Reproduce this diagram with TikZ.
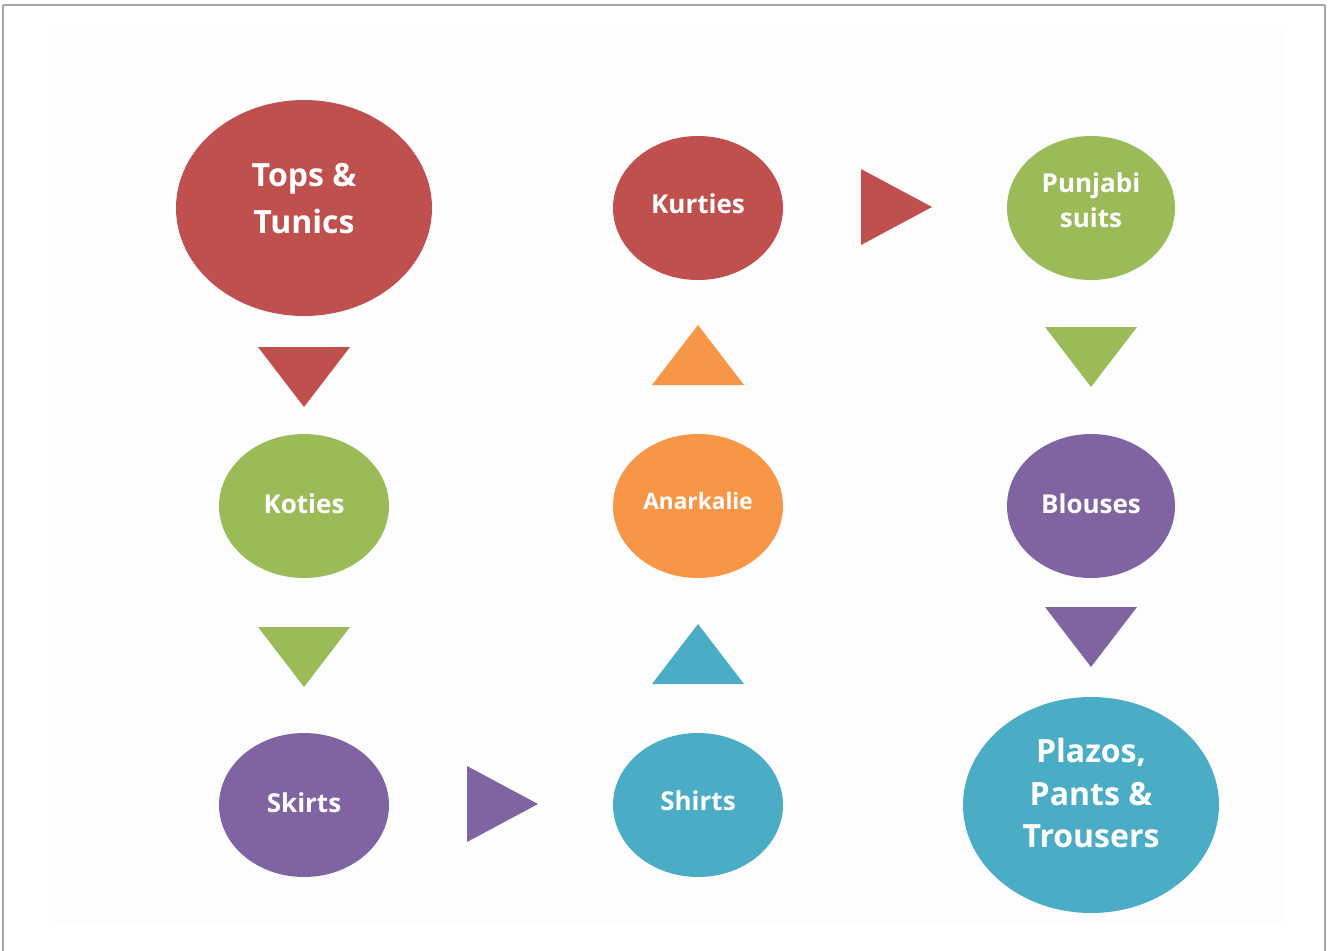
\documentclass[tikz,border=0pt]{standalone}
\usepackage{fontspec}
\setmainfont{Open Sans}
\usetikzlibrary{shapes.geometric}
\definecolor{cred}{HTML}{C0504D}
\definecolor{cgreen}{HTML}{9BBB59}
\definecolor{corange}{HTML}{F79646}
\definecolor{cpurple}{HTML}{8064A2}
\definecolor{ccyan}{HTML}{4BACC6}
\tikzset{
  bub/.style={ellipse, fill=#1, inner sep=0pt, minimum width=127.5pt, minimum height=108pt},
  bigbub/.style={bub=#1, minimum width=192pt, minimum height=162pt},
  lbl/.style={text=white, font=\bfseries\fontsize{19.5}{26}\selectfont, align=center, inner sep=0pt},
  biglbl/.style={lbl, font=\bfseries\fontsize{24}{35}\selectfont},
}
\begin{document}
\begin{tikzpicture}[x=0.75pt,y=-0.75pt]
\useasboundingbox (0,0) rectangle (1332,950);
\fill[white] (0,0) rectangle (1332,950);
\fill[black!0.6] (50,30) rectangle (1285,925);
\draw[black!35, line width=1.2pt] (3,5) -- (1325,5) (3,5) -- (3,960) (1325,5) -- (1325,960);
% bubbles
\node[bigbub=cred] (tops) at (304,208) {};
\node[bub=cred] (kurt) at (698,208) {};
\node[bub=cgreen, minimum width=126pt] (punj) at (1091,208) {};
\node[bub=cgreen] (koti) at (304,506) {};
\node[bub=corange] (anar) at (698,506) {};
\node[bub=cpurple, minimum width=126pt] (blou) at (1091,506) {};
\node[bub=cpurple] (skir) at (304,805) {};
\node[bub=ccyan] (shir) at (698,805) {};
\node[bigbub=ccyan] (plaz) at (1091,805) {};
% labels
\node[biglbl] (topsT) at ([yshift=7]tops.center) {Tops \&\\Tunics};
\node[lbl] (kurtT) at ([yshift=3]kurt.center) {Kurties};
\node[lbl] (punjT) at ([yshift=6]punj.center) {Punjabi\\suits};
\node[lbl] (kotiT) at ([yshift=2]koti.center) {Koties};
\node[lbl, font=\bfseries\fontsize{17}{22}\selectfont] (anarT) at ([yshift=4]anar.center) {Anarkalie};
\node[lbl] (blouT) at ([yshift=2]blou.center) {Blouses};
\node[lbl] (skirT) at ([yshift=2]skir.center) {Skirts};
\node[lbl] (shirT) at ([yshift=3]shir.center) {Shirts};
\node[biglbl, font=\bfseries\fontsize{24}{32}\selectfont] (plazT) at ([yshift=9]plaz.center) {Plazos,\\Pants \&\\Trousers};
% triangle markers
\coordinate (t1) at (304,377);
\coordinate (t2) at (304,657);
\coordinate (t3) at (698,355);
\coordinate (t4) at (698,654);
\coordinate (t5) at (896,207);
\coordinate (t6) at (502,804);
\coordinate (t7) at (1091,357);
\coordinate (t8) at (1091,637);
\fill[cred] ([shift={(-46,-30)}]t1) -- ([shift={(46,-30)}]t1) -- ([shift={(0,30)}]t1) -- cycle;
\fill[cgreen] ([shift={(-46,-30)}]t2) -- ([shift={(46,-30)}]t2) -- ([shift={(0,30)}]t2) -- cycle;
\fill[corange] ([shift={(-46,30)}]t3) -- ([shift={(46,30)}]t3) -- ([shift={(0,-30)}]t3) -- cycle;
\fill[ccyan] ([shift={(-46,30)}]t4) -- ([shift={(46,30)}]t4) -- ([shift={(0,-30)}]t4) -- cycle;
\fill[cred] ([shift={(-35,-38)}]t5) -- ([shift={(-35,38)}]t5) -- ([shift={(36,0)}]t5) -- cycle;
\fill[cpurple] ([shift={(-35,-38)}]t6) -- ([shift={(-35,38)}]t6) -- ([shift={(36,0)}]t6) -- cycle;
\fill[cgreen] ([shift={(-46,-30)}]t7) -- ([shift={(46,-30)}]t7) -- ([shift={(0,30)}]t7) -- cycle;
\fill[cpurple] ([shift={(-46,-30)}]t8) -- ([shift={(46,-30)}]t8) -- ([shift={(0,30)}]t8) -- cycle;
\end{tikzpicture}
\end{document}
